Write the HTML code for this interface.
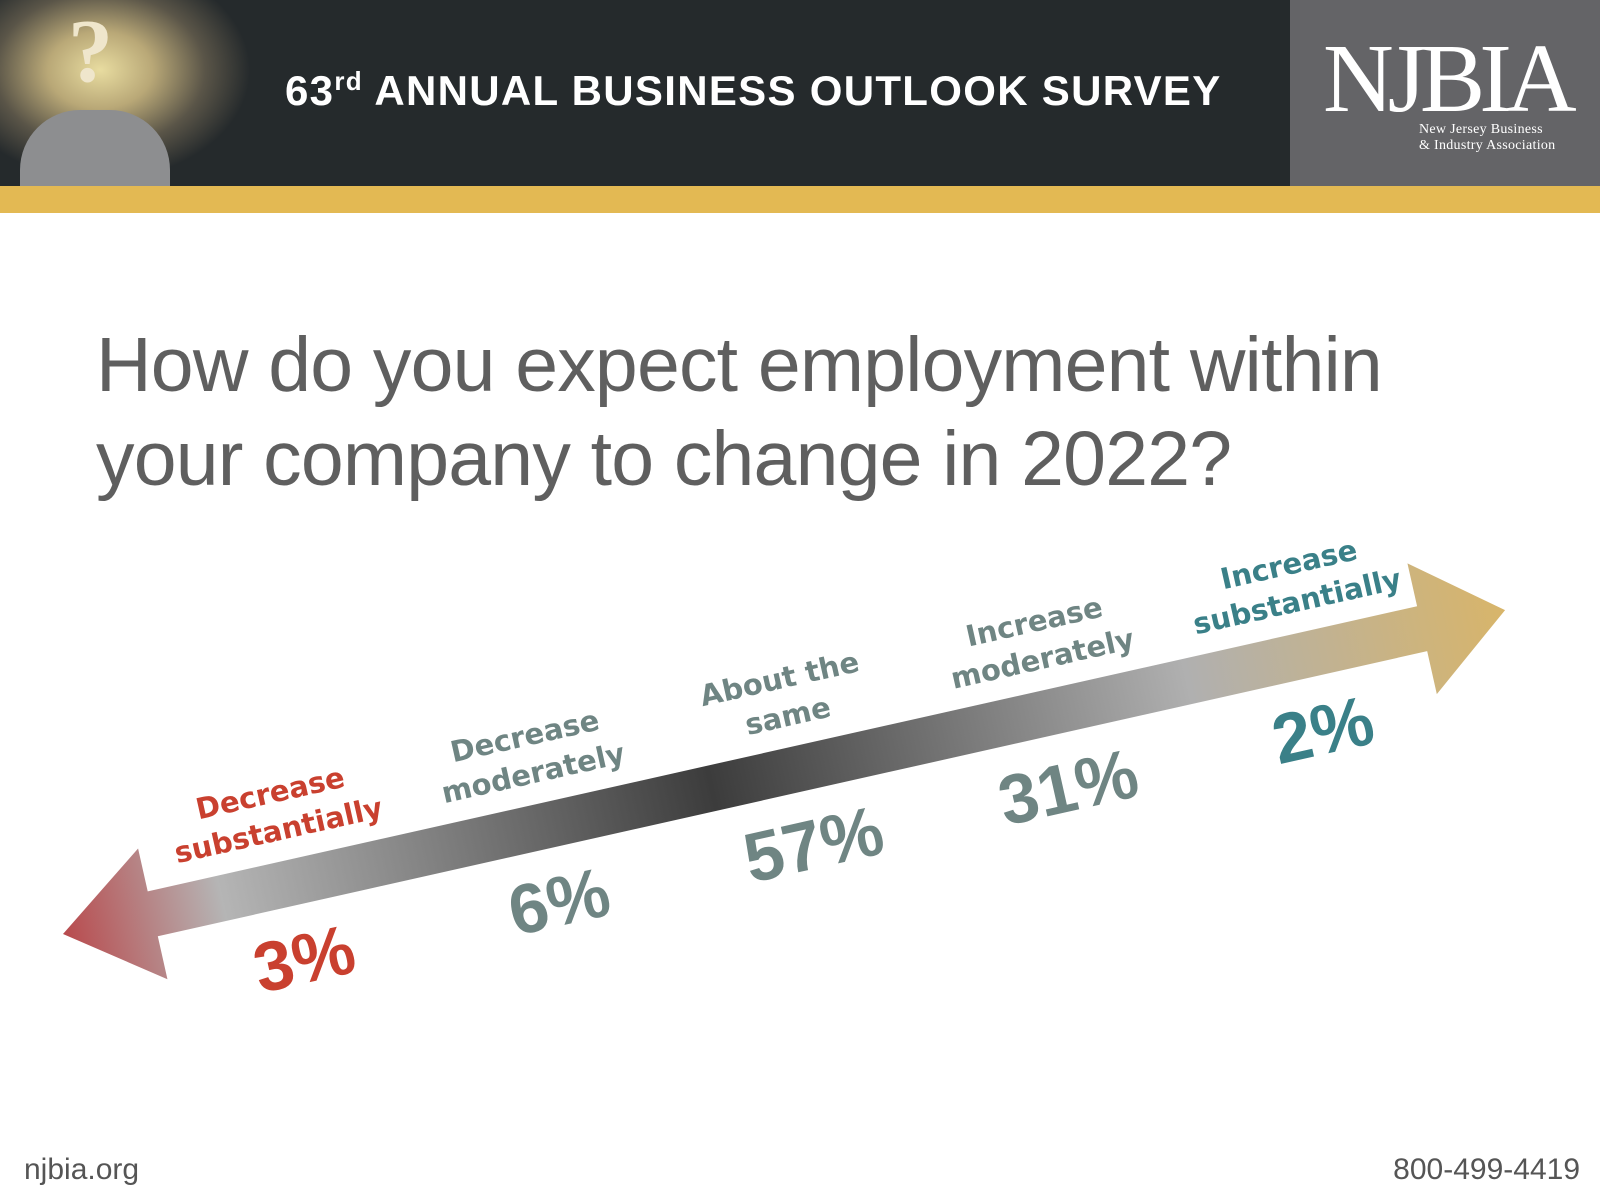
<!DOCTYPE html>
<html><head><meta charset="utf-8"><style>
html,body{margin:0;padding:0;width:1600px;height:1200px;overflow:hidden;background:#fff;font-family:"Liberation Sans",sans-serif}
.hdr{position:absolute;left:0;top:0;width:1600px;height:186px;background:#252a2c}
.img{position:absolute;left:0;top:0;width:320px;height:186px;background:radial-gradient(ellipse 150px 110px at 100px 70px,#e8dca0 0%,#b9a877 35%,#5a5548 70%,#252a2c 100%)}
.person{position:absolute;left:20px;top:110px;width:150px;height:76px;border-radius:60px 60px 0 0;background:#8d8e90}
.qm{position:absolute;left:68px;top:0;font:bold 90px "Liberation Serif",serif;color:#efe6cc}
.logo{position:absolute;left:1290px;top:0;width:310px;height:186px;background:#646467}
.gold{position:absolute;left:0;top:186px;width:1600px;height:27px;background:#e3b953}
.ttl{position:absolute;left:285px;top:66px;color:#fff;font:bold 42px "Liberation Sans",sans-serif;white-space:nowrap;letter-spacing:1.3px}
.ttl sup{font-size:26px;vertical-align:15px}
.q{position:absolute;left:96px;top:318px;font-size:77px;line-height:94px;color:#5f5f5f;white-space:nowrap;letter-spacing:-0.8px}
.foot{position:absolute;top:1153px;font-size:30px;color:#555}
</style></head><body>
<div class="hdr"></div>
<div class="img"><div class="person"></div><div class="qm">?</div></div>
<div class="ttl">63<sup>rd</sup> ANNUAL BUSINESS OUTLOOK SURVEY</div>
<div class="logo">
<div style="position:absolute;left:33px;top:30px;font:98px 'Liberation Serif',serif;color:#fff;letter-spacing:-6px;line-height:98px">NJBIA</div>
<div style="position:absolute;left:129px;top:122px;font:14px 'Liberation Serif',serif;color:#fff;line-height:16px;letter-spacing:0.3px">New Jersey Business<br>&amp; Industry Association</div>
</div>
<div class="gold"></div>
<div class="q">How do you expect employment within<br>your company to change in 2022?</div>
<svg id="chart" width="1600" height="1200" style="position:absolute;left:0;top:0">
<defs><linearGradient id="g" x1="0" x2="1" y1="0" y2="0">
<stop offset="0" stop-color="#b84a4d"/><stop offset="0.11" stop-color="#b5b5b5"/><stop offset="0.45" stop-color="#3c3c3c"/><stop offset="0.78" stop-color="#b0b0b0"/><stop offset="1" stop-color="#d8b56a"/></linearGradient></defs>
<g id="axis" transform="translate(63,934) rotate(-12.66)">
<path d="M0,0 L92,-67 L92,-23 L1393,-23 L1393,-67 L1478,0 L1393,67 L1393,23 L92,23 L92,67 Z" fill="url(#g)"/>
</g>
</svg>
<div class="foot" style="left:24px">njbia.org</div>
<div class="foot" style="right:20px">800-499-4419</div>
<script>
const categories=[["Decrease","substantially"],["Decrease","moderately"],["About the","same"],["Increase","moderately"],["Increase","substantially"]];
const values=[3,6,57,31,2];
const colors=["#c9402f","#6f8583","#6f8583","#6f8583","#3a8088"];
const NS="http://www.w3.org/2000/svg";
const g=document.getElementById('axis');
function xPos(i){return 233+261*i;}
function mk(t,x,y,size,fill,txt,font){const e=document.createElementNS(NS,'text');e.setAttribute('x',x);e.setAttribute('y',y);e.setAttribute('text-anchor','middle');e.setAttribute('font-size',size);e.setAttribute('font-weight','bold');e.setAttribute('font-family',font);e.setAttribute('fill',fill);e.textContent=txt;g.appendChild(e);return e;}
categories.forEach((c,i)=>{
 const a=mk('t',xPos(i),-82,29,colors[i],c[0],'"DejaVu Sans",sans-serif');
 
 
 const b=mk('t',xPos(i),-44,29,colors[i],c[1],'"DejaVu Sans",sans-serif');
 
 
 const p=mk('t',xPos(i)-3,101,70,colors[i],values[i]+'%','"Liberation Sans",sans-serif');
 
 
});
</script>
</body></html>
